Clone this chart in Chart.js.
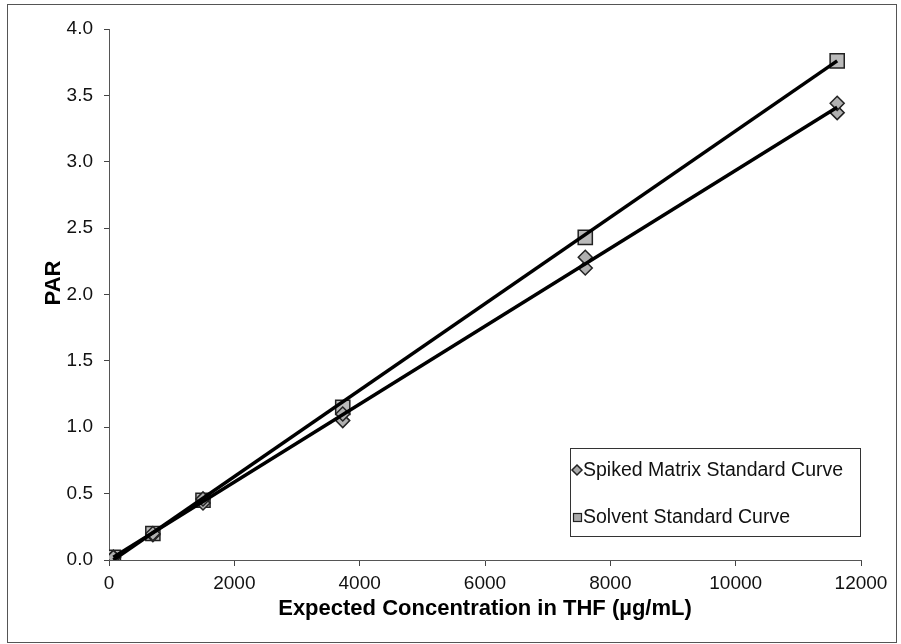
<!DOCTYPE html>
<html><head><meta charset="utf-8">
<script src="https://cdn.jsdelivr.net/npm/chart.js@4.4.1/dist/chart.umd.min.js"></script>
<style>html,body{margin:0;padding:0;background:#fff;}#wrap{width:901px;height:644px;}</style>
</head><body><div id="wrap"><canvas id="c" width="901" height="644"></canvas></div>
<script>
// ---- data ----
const seriesLabels = ['Spiked Matrix Standard Curve', 'Solvent Standard Curve'];
const spikedX = [70, 70, 700, 700, 1500, 1500, 3730, 3730, 7600, 7600, 11620, 11620];
const spikedY = [0.02, 0.02, 0.19, 0.20, 0.43, 0.46, 1.05, 1.10, 2.20, 2.28, 3.37, 3.44];
const solventX = [70, 700, 1500, 3730, 7600, 11620];
const solventY = [0.02, 0.20, 0.45, 1.15, 2.43, 3.76];
const spikedFitX = [70, 11620];
const spikedFitY = [0.02, 3.41];
const solventFitX = [70, 11620];
const solventFitY = [0.00, 3.76];
const xTicks = [0, 2000, 4000, 6000, 8000, 10000, 12000];
const yTicks = [0.0, 0.5, 1.0, 1.5, 2.0, 2.5, 3.0, 3.5, 4.0];
const xTitle = 'Expected Concentration in THF (µg/mL)';
const yTitle = 'PAR';

const pts = (xs, ys) => xs.map((x, i) => ({x: x, y: ys[i]}));
const FONT = '"Liberation Sans", Arial, sans-serif';

const frame = {
  id: 'frame',
  beforeDraw(chart) {
    const ctx = chart.ctx;
    ctx.save();
    ctx.fillStyle = '#fff';
    ctx.fillRect(0, 0, chart.width, chart.height);
    ctx.strokeStyle = '#555';
    ctx.lineWidth = 1;
    ctx.strokeRect(7.5, 4.5, 889, 638);
    ctx.restore();
  },
  afterDraw(chart) {
    // y axis title
    const ctx = chart.ctx;
    ctx.save();
    ctx.translate(54, 283);
    ctx.rotate(-Math.PI / 2);
    ctx.font = 'bold 22px ' + FONT;
    ctx.fillStyle = '#000';
    ctx.textAlign = 'center';
    ctx.textBaseline = 'middle';
    ctx.fillText(yTitle, 0, 0);
    ctx.restore();
  }
};

const legendBox = {
  id: 'legendBox',
  afterDraw(chart) {
    const ctx = chart.ctx;
    ctx.save();
    ctx.fillStyle = '#fff';
    ctx.fillRect(570, 448, 291, 88);
    ctx.strokeStyle = '#333';
    ctx.lineWidth = 1;
    ctx.strokeRect(570.5, 448.5, 290, 88);
    ctx.font = '19.5px ' + FONT;
    ctx.textBaseline = 'middle';
    ctx.textAlign = 'left';
    let cy = 470, cx = 577;
    ctx.beginPath();
    ctx.moveTo(cx, cy - 5); ctx.lineTo(cx + 5, cy); ctx.lineTo(cx, cy + 5); ctx.lineTo(cx - 5, cy); ctx.closePath();
    ctx.fillStyle = '#aaa'; ctx.fill(); ctx.strokeStyle = '#222'; ctx.lineWidth = 1.5; ctx.stroke();
    ctx.fillStyle = '#111';
    ctx.fillText(seriesLabels[0], 583, cy + 1);
    cy = 517;
    ctx.fillStyle = '#aaa'; ctx.fillRect(573, cy - 4, 9, 9);
    ctx.strokeStyle = '#222'; ctx.lineWidth = 1.2; ctx.strokeRect(573.5, cy - 3.5, 8, 8);
    ctx.fillStyle = '#111';
    ctx.fillText(seriesLabels[1], 583, cy + 1);
    ctx.restore();
  }
};

new Chart(document.getElementById('c'), {
  type: 'scatter',
  data: {
    datasets: [
      {label: seriesLabels[0] + ' fit', data: pts(spikedFitX, spikedFitY), showLine: true, borderColor: '#000', borderWidth: 3.5, pointRadius: 0, order: 0},
      {label: seriesLabels[1] + ' fit', data: pts(solventFitX, solventFitY), showLine: true, borderColor: '#000', borderWidth: 3.5, pointRadius: 0, order: 0},
      {label: seriesLabels[0], data: pts(spikedX, spikedY), pointStyle: 'rectRot', pointRadius: 7, backgroundColor: '#b0b0b0', borderColor: '#222', borderWidth: 1.5, order: 1},
      {label: seriesLabels[1], data: pts(solventX, solventY), pointStyle: 'rect', pointRadius: 10, backgroundColor: '#bababa', borderColor: '#222', borderWidth: 1.5, order: 2}
    ]
  },
  options: {
    responsive: false,
    animation: false,
    devicePixelRatio: 1,
    layout: {padding: {left: 0, top: 29, right: 40, bottom: 0}},
    plugins: {legend: {display: false}, tooltip: {enabled: false}},
    scales: {
      x: {
        type: 'linear', min: 0, max: 12000,
        afterBuildTicks: s => { s.ticks = xTicks.map(v => ({value: v})); },
        afterFit: s => { s.height = 84; },
        ticks: {font: {family: FONT, size: 19}, color: '#111', padding: 6, maxRotation: 0, callback: v => String(v)},
        grid: {display: true, drawOnChartArea: false, tickLength: 6, color: '#444', tickWidth: 1},
        border: {display: true, color: '#555', width: 1},
        title: {display: true, text: xTitle, font: {family: FONT, size: 22, weight: 'bold'}, color: '#000', padding: {top: 0, bottom: 22}}
      },
      y: {
        type: 'linear', min: 0, max: 4,
        afterBuildTicks: s => { s.ticks = yTicks.map(v => ({value: v})); },
        afterFit: s => { s.width = 109; },
        ticks: {font: {family: FONT, size: 19}, color: '#111', padding: 11, callback: v => Number(v).toFixed(1)},
        grid: {display: true, drawOnChartArea: false, tickLength: 5, color: '#444', tickWidth: 1},
        border: {display: true, color: '#555', width: 1},
        title: {display: false}
      }
    }
  },
  plugins: [frame, legendBox]
});
</script>
</body></html>
